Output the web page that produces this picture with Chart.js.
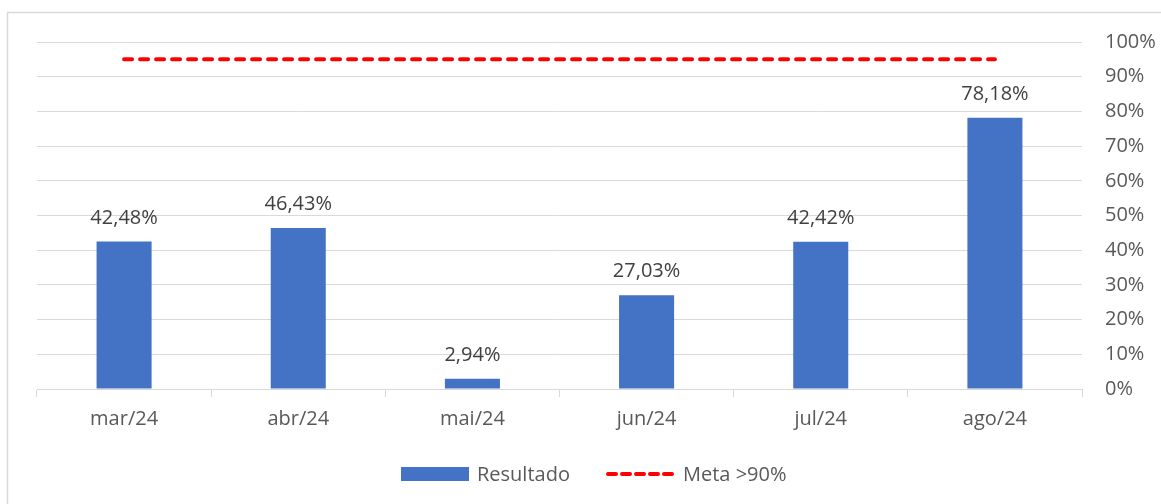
<!DOCTYPE html>
<html>
<head>
<meta charset="utf-8">
<script src="https://cdn.jsdelivr.net/npm/chart.js@4/dist/chart.umd.min.js"></script>
<style>
html,body{margin:0;padding:0;background:#fff;}
#wrap{width:1161px;height:504px;position:relative;}
</style>
</head>
<body>
<div id="wrap"><canvas id="c" width="1161" height="504"></canvas></div>
<script>
const categories = ['mar/24','abr/24','mai/24','jun/24','jul/24','ago/24'];
const resultado = [42.48, 46.43, 2.94, 27.03, 42.42, 78.18];
const meta = [95, 95, 95, 95, 95, 95];
const yTicks = [0,10,20,30,40,50,60,70,80,90,100];
const seriesNames = ['Resultado', 'Meta >90%'];

const FONT = '"Open Sans", "Noto Sans", sans-serif';
const TXT = '#595959';
const GRID = '#d9d9d9';
const BLUE = '#4472C4';
const RED = '#FF0000';

function fmt(v){ return v.toFixed(2).replace('.', ',') + '%'; }

const framePlugin = {
  id: 'frame',
  beforeDraw(chart){
    const ctx = chart.ctx;
    ctx.save();
    ctx.fillStyle = '#fff';
    ctx.fillRect(0,0,chart.width,chart.height);
    ctx.strokeStyle = GRID;
    ctx.lineWidth = 1.5;
    ctx.strokeRect(7.5, 12.5, 1300, 700);
    ctx.restore();
  }
};

const labelsPlugin = {
  id: 'barLabels',
  afterDatasetsDraw(chart){
    const ctx = chart.ctx;
    const meta0 = chart.getDatasetMeta(0);
    ctx.save();
    ctx.font = '20px ' + FONT;
    ctx.fillStyle = '#404040';
    ctx.textAlign = 'center';
    ctx.textBaseline = 'alphabetic';
    meta0.data.forEach((bar, i) => {
      ctx.fillText(fmt(resultado[i]), bar.x, bar.y - 18);
    });
    ctx.restore();
  }
};

const legendPlugin = {
  id: 'customLegend',
  afterDraw(chart){
    const ctx = chart.ctx;
    ctx.save();
    ctx.font = '20px ' + FONT;
    ctx.fillStyle = BLUE;
    ctx.fillRect(401, 467, 68, 14);
    ctx.fillStyle = TXT;
    ctx.textBaseline = 'alphabetic';
    ctx.textAlign = 'left';
    ctx.fillText(seriesNames[0], 477, 481);
    ctx.strokeStyle = RED;
    ctx.lineWidth = 4;
    ctx.lineCap = 'round';
    ctx.setLineDash([8, 6]);
    ctx.beginPath();
    ctx.moveTo(608, 474);
    ctx.lineTo(674, 474);
    ctx.stroke();
    ctx.setLineDash([]);
    ctx.fillText(seriesNames[1], 683, 481);
    ctx.restore();
  }
};

new Chart(document.getElementById('c'), {
  data: {
    labels: categories,
    datasets: [
      {
        type: 'bar',
        label: seriesNames[0],
        data: resultado,
        backgroundColor: BLUE,
        borderWidth: 0,
        categoryPercentage: 1,
        barPercentage: 0.316,
        order: 2
      },
      {
        type: 'line',
        label: seriesNames[1],
        data: meta,
        borderColor: RED,
        borderWidth: 4,
        borderDash: [8, 8],
        borderCapStyle: 'round',
        pointRadius: 0,
        fill: false,
        order: 1
      }
    ]
  },
  options: {
    responsive: false,
    animation: false,
    layout: { padding: { left: 37, top: 42, right: 0, bottom: 0 } },
    plugins: {
      legend: { display: false },
      tooltip: { enabled: false }
    },
    scales: {
      x: {
        offset: true,
        grid: {
          display: true,
          drawOnChartArea: false,
          drawTicks: true,
          tickLength: 8,
          color: GRID,
          offset: true
        },
        border: { display: true, color: GRID, width: 1 },
        ticks: { color: TXT, font: { family: FONT, size: 20 }, padding: 10, maxRotation: 0 },
        afterFit(scale){ scale.height = 115; }
      },
      y: {
        position: 'right',
        min: 0,
        max: 100,
        afterBuildTicks(scale){ scale.ticks = yTicks.map(v => ({ value: v })); },
        grid: { color: GRID, lineWidth: 1, drawTicks: false },
        border: { display: false },
        ticks: {
          color: TXT,
          font: { family: FONT, size: 20 },
          padding: 23,
          crossAlign: 'near',
          callback: v => v + '%'
        },
        afterFit(scale){ scale.width = 79; }
      }
    }
  },
  plugins: [framePlugin, labelsPlugin, legendPlugin]
});
</script>
</body>
</html>
